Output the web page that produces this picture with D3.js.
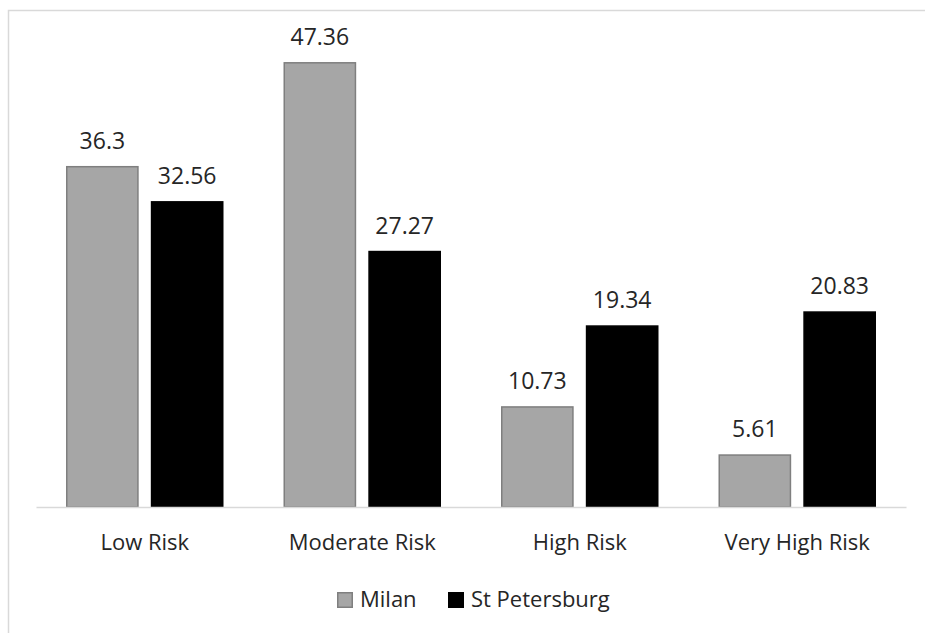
<!DOCTYPE html>
<html>
<head>
<meta charset="utf-8">
<script src="https://cdn.jsdelivr.net/npm/d3@7"></script>
<style>
  body { margin: 0; background: #fff; }
  text { font-family: "Open Sans", sans-serif; fill: #000; }
</style>
</head>
<body>
<div id="barChart"></div>
<script>
var categories = ["Low Risk", "Moderate Risk", "High Risk", "Very High Risk"];
var series = ["Milan", "St Petersburg"];
var milan = [36.3, 47.36, 10.73, 5.61];
var stPetersburg = [32.56, 27.27, 19.34, 20.83];
var valueLabels = {"Milan": ["36.3", "47.36", "10.73", "5.61"],
                   "St Petersburg": ["32.56", "27.27", "19.34", "20.83"]};

var W = 925, H = 633;
var margin = {top: 10, right: 19, bottom: 126, left: 36},
    width = W - margin.left - margin.right,
    height = H - margin.top - margin.bottom;

var svg = d3.select("#barChart").append("svg")
    .attr("width", W)
    .attr("height", H);

// outer frame of the chart area
svg.append("rect")
    .attr("x", 8.5).attr("y", 10.5)
    .attr("width", W + 20).attr("height", H + 20)
    .attr("fill", "none")
    .attr("stroke", "#d9d9d9")
    .attr("stroke-width", 1.5);

var g = svg.append("g").attr("transform", "translate(" + margin.left + "," + margin.top + ")");

var x0 = d3.scaleBand()
    .domain(categories)
    .range([0, width])
    .padding(0);

var groupPad = 30;
var x1 = d3.scaleBand()
    .domain(series)
    .range([groupPad, x0.bandwidth() - groupPad])
    .paddingInner(0.143);

var y = d3.scaleLinear()
    .domain([0, 52.9])
    .range([height, 0]);

var z = d3.scaleOrdinal()
    .domain(series)
    .range(["#a6a6a6", "#000000"]);
var zStroke = d3.scaleOrdinal()
    .domain(series)
    .range(["#7f7f7f", "#000000"]);

var data = categories.map(function(c, i) {
  return {cat: c, values: [
    {key: "Milan", value: milan[i], label: valueLabels["Milan"][i]},
    {key: "St Petersburg", value: stPetersburg[i], label: valueLabels["St Petersburg"][i]}
  ]};
});

var groups = g.append("g")
  .selectAll("g")
  .data(data)
  .enter().append("g")
    .attr("transform", function(d) { return "translate(" + x0(d.cat) + ",0)"; });

groups.selectAll("rect")
  .data(function(d) { return d.values; })
  .enter().append("rect")
    .attr("x", function(d) { return x1(d.key) + 0.75; })
    .attr("y", function(d) { return y(d.value) + 0.75; })
    .attr("width", x1.bandwidth() - 1.5)
    .attr("height", function(d) { return height - y(d.value) - 0.75; })
    .attr("fill", function(d) { return z(d.key); })
    .attr("stroke", function(d) { return zStroke(d.key); })
    .attr("stroke-width", 1.5);

groups.selectAll("text.val")
  .data(function(d) { return d.values; })
  .enter().append("text")
    .attr("class", "val")
    .attr("x", function(d) { return x1(d.key) + x1.bandwidth() / 2; })
    .attr("y", function(d) { return y(d.value) - 17; })
    .attr("text-anchor", "middle")
    .style("font-size", "23px")
    .style("fill", "#262626")
    .text(function(d) { return d.label; });

// x axis
var xAxis = g.append("g")
    .attr("transform", "translate(0," + height + ")")
    .call(d3.axisBottom(x0).tickSize(0).tickPadding(0));
xAxis.select(".domain").attr("stroke", "#d9d9d9").attr("stroke-width", 1.5);
xAxis.selectAll("text")
    .attr("dy", null)
    .attr("y", 43)
    .style("font-size", "22px")
    .style("font-family", "'Open Sans', sans-serif")
    .style("fill", "#262626");

// legend
var legendX = [337, 448];
var legend = svg.append("g")
  .selectAll("g")
  .data(series)
  .enter().append("g")
    .attr("transform", function(d, i) { return "translate(" + legendX[i] + ",592)"; });

legend.append("rect")
    .attr("x", 0.75).attr("y", 0.75)
    .attr("width", 14.5).attr("height", 14.5)
    .attr("fill", z)
    .attr("stroke", zStroke)
    .attr("stroke-width", 1.5);

legend.append("text")
    .attr("x", 23)
    .attr("y", 15)
    .style("font-size", "22px")
    .style("fill", "#262626")
    .text(function(d) { return d; });
</script>
</body>
</html>
